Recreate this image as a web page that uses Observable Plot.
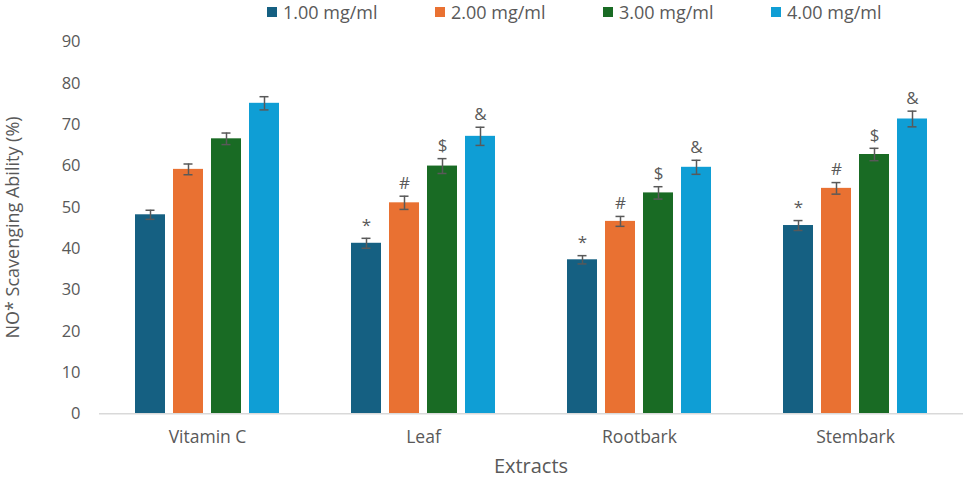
<!DOCTYPE html>
<html><head><meta charset="utf-8">
<script src="https://cdn.jsdelivr.net/npm/d3@7"></script>
<script src="https://cdn.jsdelivr.net/npm/@observablehq/plot@0.6"></script>
<style>
body{margin:0;background:#fff;font-family:"Open Sans",sans-serif;}
#legend{position:relative;height:24px;width:965px;}
.item{position:absolute;top:2px;display:flex;align-items:center;font-size:18px;color:#595959;line-height:20px;}
.sw{width:10px;height:10px;margin-right:6px;}
</style></head><body>
<div id="legend"></div>
<div id="chart"></div>
<script>
const extracts = ["Vitamin C", "Leaf", "Rootbark", "Stembark"];
const concentrations = ["1.00 mg/ml", "2.00 mg/ml", "3.00 mg/ml", "4.00 mg/ml"];
const colors = ["#156082", "#E97132", "#196B24", "#0F9ED5"];
const symbols = ["*", "#", "$", "&"];
const yTicks = [0, 10, 20, 30, 40, 50, 60, 70, 80, 90];

const values1 = [48.2, 41.3, 37.3, 45.6];
const values2 = [59.2, 51.1, 46.6, 54.6];
const values3 = [66.6, 60.0, 53.5, 62.8];
const values4 = [75.2, 67.2, 59.7, 71.4];
const errors1 = [1.1, 1.2, 1.0, 1.2];
const errors2 = [1.3, 1.6, 1.2, 1.4];
const errors3 = [1.4, 1.8, 1.5, 1.5];
const errors4 = [1.6, 2.2, 1.7, 1.9];
const marked = [false, true, true, true];

const values = [values1, values2, values3, values4];
const errors = [errors1, errors2, errors3, errors4];
const data = [];
concentrations.forEach((c, j) => extracts.forEach((e, i) => data.push({
  extract: e, conc: c, value: values[j][i], err: errors[j][i],
  lo: values[j][i] - errors[j][i], hi: values[j][i] + errors[j][i],
  sig: marked[i] ? symbols[j] : ""
})));

// legend
const legend = document.getElementById("legend");
concentrations.forEach((c, j) => {
  const it = document.createElement("div");
  it.className = "item";
  it.style.left = (267 + j * 168) + "px";
  it.innerHTML = `<span class="sw" style="background:${colors[j]}"></span><span>${c}</span>`;
  legend.appendChild(it);
});

const grey = "#595959";
const chart = Plot.plot({
  width: 965, height: 454,
  marginLeft: 99, marginRight: 2, marginTop: 17.7, marginBottom: 64.7,
  style: {fontFamily: "'Open Sans', sans-serif", fontSize: "16px", color: grey, background: "#fff"},
  fx: {domain: extracts, paddingInner: 0, paddingOuter: 0, label: null},
  x: {domain: concentrations, paddingInner: 0.2, paddingOuter: 0.87, axis: null},
  y: {domain: [0, 90], label: null},
  color: {domain: concentrations, range: colors},
  marks: [
    Plot.axisY({ticks: yTicks, tickSize: 0, tickPadding: 19, label: null, fill: grey, fontSize: 16.5}),
    Plot.axisFx({anchor: "bottom", tickSize: 0, tickPadding: 17, label: null, fill: grey, fontSize: 17.5}),
    Plot.barY(data, {fx: "extract", x: "conc", y: "value", fill: "conc"}),
    Plot.ruleY([0], {stroke: "#d9d9d9", strokeWidth: 1.5}),
    Plot.ruleX(data, {fx: "extract", x: "conc", y1: "lo", y2: "hi", stroke: grey, strokeWidth: 1.5}),
    Plot.tickY(data, {fx: "extract", x: "conc", y: "lo", inset: 10.5, stroke: grey, strokeWidth: 1.5}),
    Plot.tickY(data, {fx: "extract", x: "conc", y: "hi", inset: 10.5, stroke: grey, strokeWidth: 1.5}),
    Plot.text(data, {fx: "extract", x: "conc", y: "hi", text: "sig", dy: -13, fill: grey, fontSize: 17})
  ]
});
document.getElementById("chart").appendChild(chart);

const svg = d3.select(chart);
svg.append("text")
  .attr("transform", "translate(14,203.5) rotate(-90)")
  .attr("text-anchor", "middle").attr("dominant-baseline", "middle")
  .attr("fill", grey).style("font-size", "18px")
  .text("NO* Scavenging Ability (%)");
svg.append("text")
  .attr("x", 531).attr("y", 443.7)
  .attr("text-anchor", "middle").attr("dominant-baseline", "middle")
  .attr("fill", grey).style("font-size", "20px")
  .text("Extracts");
</script>
</body></html>
